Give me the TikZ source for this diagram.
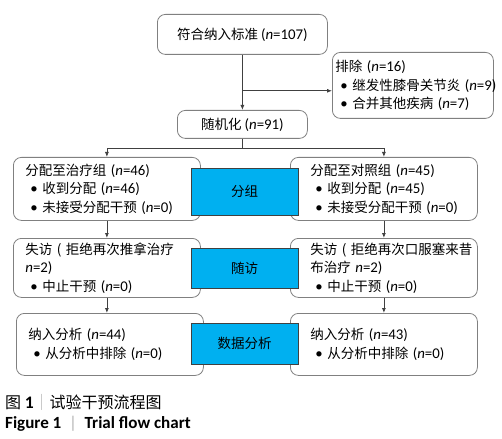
\documentclass[tikz,border=0pt]{standalone}
\usepackage{fontspec}
\setmainfont{Noto Sans CJK SC}
\newfontfamily\lat{Carlito}[Scale=1.1]
\usetikzlibrary{arrows.meta}
\definecolor{grpblue}{HTML}{00B0F0}
\definecolor{boxgray}{HTML}{808080}
\definecolor{linegray}{HTML}{404040}
\newcommand\ncount[1]{{\lat(\textit{n}=#1)}}
\newcommand\itm{\hspace*{5pt}{\lat\textbullet}~}
\tikzset{
  flowbox/.style={draw=boxgray, line width=0.8pt, rounded corners=8pt, fill=white,
    anchor=north west, inner ysep=0pt, font=\fontsize{13.5}{18.5}\selectfont},
  listbox/.style={flowbox, align=left},
  stagebox/.style={draw=linegray, line width=0.8pt, fill=grpblue, minimum width=107pt,
    font=\fontsize{13.5}{18.5}\selectfont},
  arr/.style={draw=linegray, line width=0.8pt, -{Latex[length=5pt,width=4pt]}}
}
\begin{document}
\begin{tikzpicture}[x=1pt, y=-1pt]
  \useasboundingbox (0,0) rectangle (502,438);
  % screening and randomisation
  \node[flowbox, minimum width=170pt, minimum height=40pt] (incl) at (157,14)
    {符合纳入标准~\ncount{107}};
  \node[listbox, minimum width=161pt, minimum height=66pt, inner xsep=3pt,
    text width=155pt] (excl) at (332,52)
    {排除~\ncount{16}\\ \itm 继发性膝骨关节炎~\ncount{9}\\ \itm 合并其他疾病~\ncount{7}};
  \node[flowbox, minimum width=130pt, minimum height=28pt] (rand) at (177,110)
    {随机化~\ncount{91}};
  % left arm
  \node[listbox, minimum width=187pt, minimum height=63pt, inner xsep=12pt,
    text width=163pt] (alloc1) at (13,157)
    {分配至治疗组~\ncount{46}\\ \itm 收到分配~\ncount{46}\\ \itm 未接受分配干预~\ncount{0}};
  \node[listbox, minimum width=187pt, minimum height=59pt, inner xsep=12pt,
    text width=163pt] (lost1) at (13,238)
    {失访~(~拒绝再次推拿治疗\\ {\lat\textit{n}=2)}\\ \itm 中止干预~\ncount{0}};
  \node[listbox, minimum width=187pt, minimum height=62pt, inner xsep=12pt,
    text width=163pt] (anal1) at (16,313)
    {纳入分析~\ncount{44}\\ \itm 从分析中排除~\ncount{0}};
  % right arm
  \node[listbox, minimum width=187pt, minimum height=63pt, inner xsep=20pt,
    text width=147pt] (alloc2) at (290,157)
    {分配至对照组~\ncount{45}\\ \itm 收到分配~\ncount{45}\\ \itm 未接受分配干预~\ncount{0}};
  \node[listbox, minimum width=187pt, minimum height=59pt, inner xsep=20pt,
    text width=147pt] (lost2) at (290,238)
    {失访~(~拒绝再次口服塞来昔\\ 布治疗~{\lat\textit{n}=2)}\\ \itm 中止干预~\ncount{0}};
  \node[listbox, minimum width=187pt, minimum height=62pt, inner xsep=20pt,
    text width=147pt] (anal2) at (290,313)
    {纳入分析~\ncount{43}\\ \itm 从分析中排除~\ncount{0}};
  % stage labels
  \node[stagebox, minimum height=47pt] (sgrp) at (244.5,191.5) {分组};
  \node[stagebox, minimum height=40pt] (sfol) at (244.5,268) {随访};
  \node[stagebox, minimum height=41pt] (sana) at (244.5,343.5) {数据分析};
  % connectors
  \path (incl.south) ++(0,36) coordinate (split);
  \path (rand.south) ++(0,10) coordinate (fork);
  \draw[arr] (incl.south) -- (rand.north);
  \draw[arr] (split) -- (split -| excl.west);
  \draw[linegray, line width=0.8pt] (rand.south) -- (fork);
  \draw[arr] (fork) -| (alloc1.north);
  \draw[arr] (fork) -| (alloc2.north);
  \draw[arr] (alloc1.south) -- (lost1.north);
  \draw[arr] (alloc2.south) -- (lost2.north);
  \draw[arr] (lost1.south) -- (lost1.south |- anal1.north);
  \draw[arr] (lost2.south) -- (anal2.north);
  % caption
  \node[anchor=west, inner sep=0pt, font=\fontsize{16}{18}\selectfont] (capzh) at (5,402)
    {图 {\lat\bfseries 1}{\color{gray!60}｜}试验干预流程图};
  \node[anchor=west, inner sep=0pt, font=\lat\bfseries\fontsize{15.5}{18}\selectfont] (capen)
    at (5,424) {Figure 1\ \ {\color{gray!60}\mdseries|}\ \ Trial flow chart};
\end{tikzpicture}
\end{document}
